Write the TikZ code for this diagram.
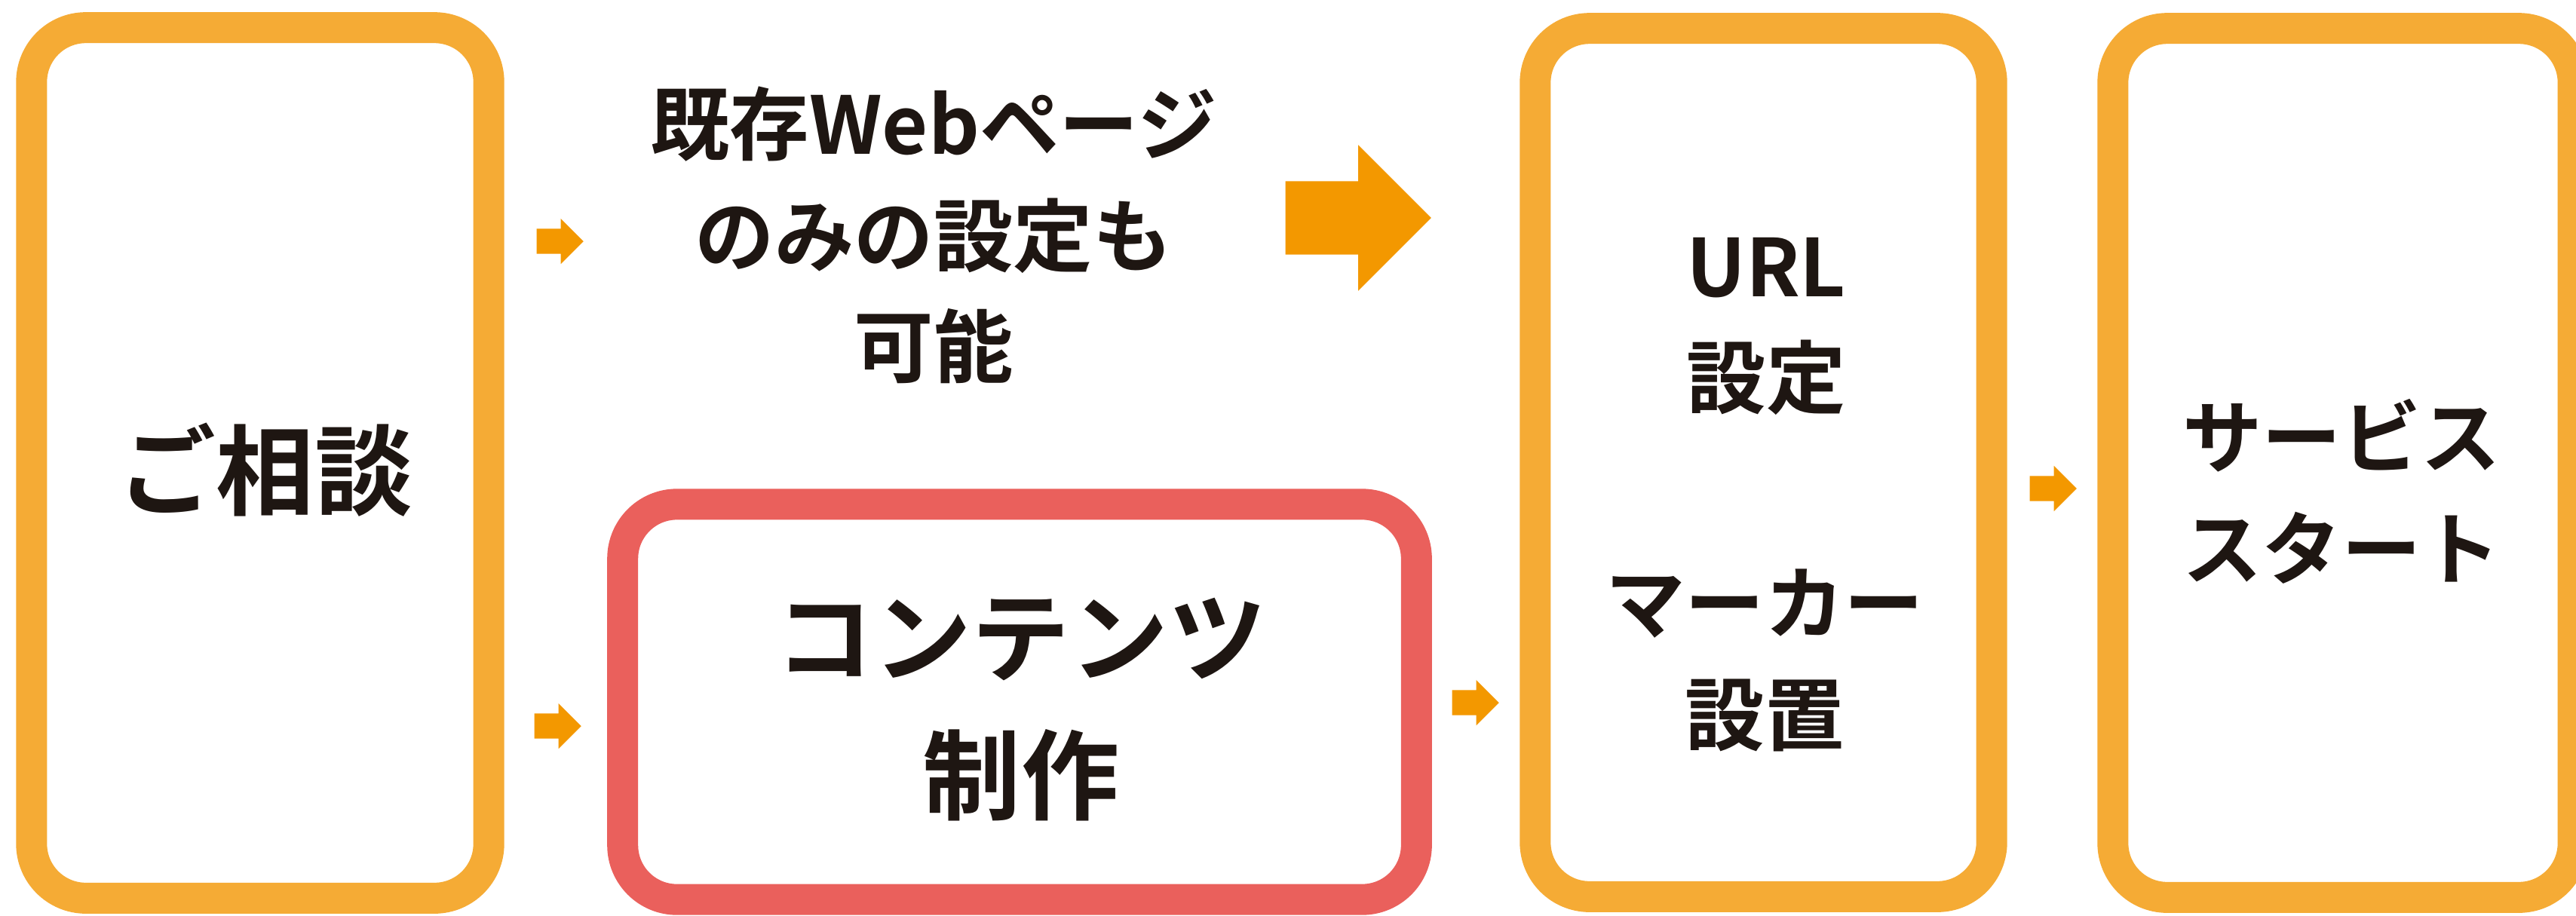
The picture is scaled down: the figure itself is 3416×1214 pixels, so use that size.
\documentclass[tikz,border=0pt]{standalone}
\usepackage{fontspec}
\newfontfamily\jpfont{Noto Sans CJK JP Bold}
\usetikzlibrary{shapes.arrows}
\definecolor{boxor}{HTML}{F5AB35}
\definecolor{arrowor}{HTML}{F39800}
\definecolor{boxred}{HTML}{EA605C}
\definecolor{inkc}{HTML}{1E1612}
\begin{document}
\begin{tikzpicture}[x=0.01cm,y=-0.01cm,
  stepbox/.style={draw=boxor,line width=0.41cm,rounded corners=0.72cm,inner sep=0pt,fill=white},
  redbox/.style={stepbox,draw=boxred},
  bigtxt/.style={font=\jpfont\fontsize{37}{52}\selectfont,text=inkc,align=center,inner sep=0pt},
  smalltxt/.style={font=\jpfont\fontsize{30}{42}\selectfont,text=inkc,align=center,inner sep=0pt},
  flowarrow/.style={single arrow,fill=arrowor,draw=none,inner xsep=0pt,inner ysep=0.16cm,
    single arrow head extend=0.135cm,minimum height=0.62cm,minimum width=0pt,
    single arrow tip angle=90,anchor=tail},
  bigarrow/.style={flowarrow,inner ysep=0.48cm,single arrow head extend=0.48cm,minimum height=1.93cm}]
\useasboundingbox (0,0) rectangle (3416,1214);
\fill[white] (0,0) rectangle (3416,1214);
\clip (0,0) rectangle (3416,1214);
% boxes
\node[stepbox,minimum width=6.06cm,minimum height=11.54cm] (b1) at (345,614) {};
\node[redbox,minimum width=10.52cm,minimum height=5.24cm] (b2) at (1352,931) {};
\node[stepbox,minimum width=6.05cm,minimum height=11.51cm] (b3) at (2338.5,613.5) {};
\node[stepbox,minimum width=6.10cm,minimum height=11.52cm] (b4) at (3107,614) {};
% texts
\node[bigtxt] (t1) at (352,623) {ご相談};
\node[smalltxt] (t2) at (1238,312) {既存Webページ\\のみの設定も\\可能};
\node[bigtxt] (t3) at (1354,941) {コンテンツ\\制作};
\node[smalltxt] (t4a) at (2342,433) {URL\\設定};
\node[smalltxt] (t4b) at (2340,876) {マーカー\\設置};
\node[smalltxt] (t5) at (3105,652) {サービス\\スタート};
% arrows
\node[flowarrow] (a1) at (711,320) {};
\node[flowarrow] (a2) at (708,963) {};
\node[flowarrow] (a3) at (1925,932) {};
\node[flowarrow] (a4) at (2691,648) {};
\node[bigarrow] (a5) at (1704,289) {};
\end{tikzpicture}
\end{document}
